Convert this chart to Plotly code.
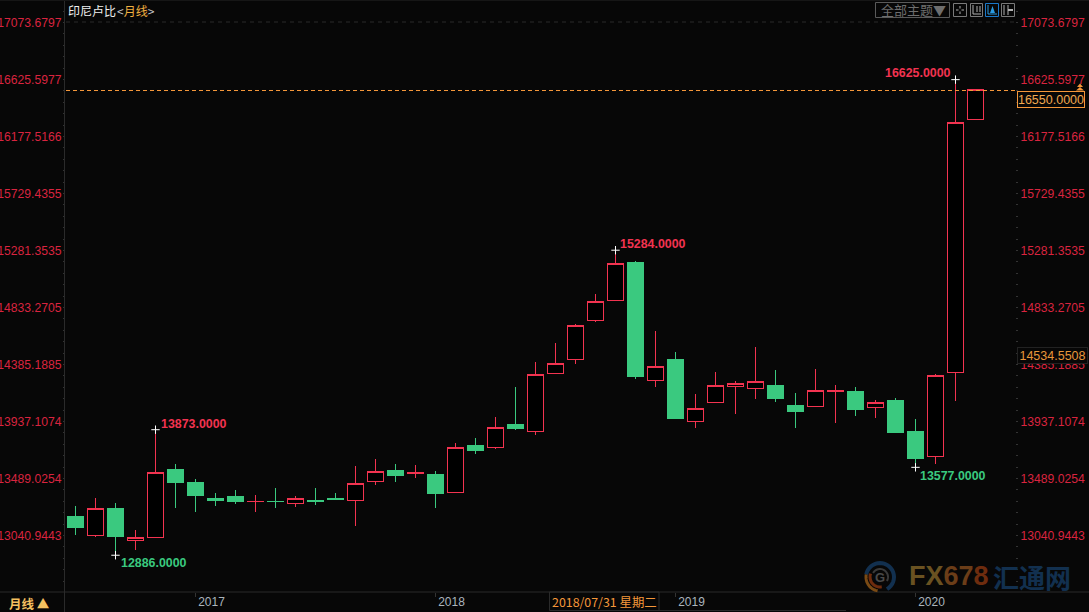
import numpy as np
import plotly.graph_objects as go

# ---- data ----
months = [f"{y}-{m:02d}" for y, m in
          [(2016, m) for m in range(7, 13)] + [(2017, m) for m in range(1, 13)] +
          [(2018, m) for m in range(1, 13)] + [(2019, m) for m in range(1, 13)] +
          [(2020, m) for m in range(1, 5)]]
opens = [13194, 13039, 13257, 13003, 13027, 13564, 13454, 13336, 13344, 13307, 13312, 13294,
         13320, 13336, 13318, 13464, 13556, 13527, 13522, 13381, 13745, 13731, 13910, 13860,
         14313, 14423, 14730, 14887, 15191, 14258, 14428, 13936, 14087, 14211, 14195, 14224,
         14067, 14053, 14171, 14177, 14049, 14106, 13862, 13664, 14324, 16313]
highs = [13273, 13336, 13294, 13084, 13873, 13603, 13483, 13375, 13399, 13359, 13414, 13352,
         13414, 13375, 13587, 13642, 13603, 13595, 13546, 13766, 13807, 13973, 14208, 14405,
         14554, 14704, 14939, 15284, 15199, 14649, 14484, 14153, 14326, 14256, 14520, 14342,
         14161, 14350, 14224, 14208, 14106, 14120, 13957, 14308, 16625, 16550]
lows = [13047, 13032, 12886, 12929, 13020, 13260, 13228, 13275, 13291, 13228, 13260, 13267,
        13283, 13320, 13118, 13440, 13464, 13495, 13260, 13381, 13684, 13723, 13873, 13833,
        14313, 14392, 14722, 14887, 14274, 14211, 13959, 13888, 14087, 13998, 14116, 14093,
        13888, 14053, 13928, 13983, 13967, 13849, 13577, 13605, 14101, 16313]
closes = [13102, 13255, 13032, 13027, 13538, 13456, 13354, 13320, 13307, 13312, 13307, 13333,
          13307, 13322, 13451, 13546, 13511, 13538, 13370, 13734, 13713, 13892, 13881, 14308,
          14395, 14693, 14882, 15181, 14289, 14371, 13959, 14041, 14222, 14237, 14253, 14116,
          14014, 14182, 14182, 14030, 14088, 13849, 13645, 14300, 16289, 16550]

y_ticks = [17073.6797, 16625.5977, 16177.5166, 15729.4355, 15281.3535,
           14833.2705, 14385.1885, 13937.1074, 13489.0254, 13040.9443]
y_labels = ["%.4f" % v for v in y_ticks]
year_months = ["2017-01", "2018-01", "2019-01", "2020-01"]
year_labels = ["2017", "2018", "2019", "2020"]

extreme_months = ["2016-09", "2016-11", "2018-10", "2020-01", "2020-03"]
extreme_values = [12886, 13873, 15284, 13577, 16625]
last_price = 16550
cursor_price = "14534.5508"
title_name = "印尼卢比"
period = "月线"
cursor_date = "2018/07/31 星期二"

# ---- style ----
BG = "#070707"
RED = "#f23350"
GREEN = "#3ac97f"
AXIS_RED = "#d9243f"
ORANGE = "#f5973a"
DIM = "#2a2a2a"
FONT = "Liberation Sans"
CJK = "Noto Sans CJK SC"

L, R, T, B = 66, 1015, 0, 592
W, H = 1089, 612
def px(x): return (x - L) / (R - L)
def py(y): return 1 - (y - T) / (B - T)
cat_lo, cat_hi = -0.475, 46.975
y_lo, y_hi = 12597, 17251

fig = go.Figure()
fig.add_trace(go.Candlestick(
    x=months, open=opens, high=highs, low=lows, close=closes,
    whiskerwidth=0, hoverinfo="skip", showlegend=False,
    increasing=dict(line=dict(color=RED, width=1), fillcolor="#000000"),
    decreasing=dict(line=dict(color=GREEN, width=1), fillcolor=GREEN),
))
fig.add_trace(go.Scatter(
    x=extreme_months, y=extreme_values, mode="markers", hoverinfo="skip", showlegend=False,
    marker=dict(symbol="cross-thin", size=6, line=dict(color="#ffffff", width=1), color="#ffffff"),
))
# invisible companion so the left price scale is drawn
fig.add_trace(go.Scatter(x=months[:1], y=[y_ticks[0]], yaxis="y2", mode="markers",
                         marker=dict(opacity=0), hoverinfo="skip", showlegend=False))

annotations = []
def text(x, y, s, color, size, anchor="left", font=FONT, bold=False, **kw):
    annotations.append(dict(
        xref="paper", yref="paper", x=px(x), y=py(y), text=f"<b>{s}</b>" if bold else s,
        showarrow=False, xanchor=anchor, yanchor=kw.pop("yanchor", "middle"),
        font=dict(color=color, size=size, family=font), borderpad=0, **kw))

# extreme value labels
for m, v, col, dx, dy in zip(extreme_months, extreme_values,
                             [GREEN, RED, RED, GREEN, RED],
                             [3, 3, 2, 2, -73], [8, -6, -6, 9, -7]):
    annotations.append(dict(xref="x", yref="y", x=m, y=v, text=f"<b>{v}.0000</b>", showarrow=False,
                            xanchor="left", yanchor="middle", xshift=dx, yshift=-dy,
                            font=dict(color=col, size=12.4, family=FONT)))

# headers and footer
text(67, 11, title_name, "#f0f0f0", 12, font=CJK)
text(116, 11, '<span style="color:#c8c8c8">&lt;</span>' + period +
     '<span style="color:#c8c8c8">&gt;</span>', "#f0b040", 12, font=CJK)
text(8, 603, f"<b>{period}</b> ▲", "#f5c060", 12.5, font=CJK)
text(604, 602, cursor_date, ORANGE, 12.4, anchor="center", font=CJK)
text(913, 10, "全部主题▼", "#6e6e6e", 13, anchor="center", font=CJK)

# value boxes
annotations.append(dict(xref="paper", yref="paper", x=px(1017), y=py(91), xanchor="left", yanchor="top",
                        text="%d.0000" % last_price, showarrow=False, width=66, height=15,
                        bgcolor=BG, bordercolor=ORANGE, borderwidth=1, borderpad=0, align="center",
                        font=dict(color="#f0a850", size=12.5, family=FONT)))
annotations.append(dict(xref="paper", yref="paper", x=px(1017), y=py(347), xanchor="left", yanchor="top",
                        text=cursor_price, showarrow=False, width=69, height=15,
                        bgcolor=BG, bordercolor="#222222", borderwidth=1, borderpad=0, align="center",
                        font=dict(color="#e8963a", size=12.5, family=FONT)))

# watermark
text(908, 576, '<b><span style="color:#6a5221">FX</span><span style="color:#6b3d18">67</span>'
     '<span style="color:#6e2c0e">8</span></b>', "#6a5221", 27, font=FONT)
text(992, 576, "<b>汇通网</b>", "#12304f", 26, font=CJK)
text(880, 577, "G", "#4a4a4a", 13, anchor="center", bold=True)

shapes = []
def rect(x0, y0, x1, y1, color, width=1, fill=None, layer="above"):
    shapes.append(dict(type="rect", xref="paper", yref="paper", x0=px(x0), x1=px(x1), y0=py(y0), y1=py(y1),
                       line=dict(color=color, width=width), fillcolor=fill or "rgba(0,0,0,0)", layer=layer))
def line(x0, y0, x1, y1, color, width=1, dash="solid"):
    shapes.append(dict(type="line", xref="paper", yref="paper", x0=px(x0), x1=px(x1), y0=py(y0), y1=py(y1),
                       line=dict(color=color, width=width, dash=dash)))
def tri(x0, x1, ytop, ybot, color):
    shapes.append(dict(type="path", xref="paper", yref="paper",
                       path=f"M {px(x0)},{py(ybot)} L {px((x0 + x1) / 2)},{py(ytop)} L {px(x1)},{py(ybot)} Z",
                       fillcolor=color, line=dict(width=0)))
def arc(cx, cy, r, a0, a1, color, width):
    t = np.radians(np.linspace(a0, a1, 24))
    pts = [(px(cx + r * np.cos(a)), py(cy - r * np.sin(a))) for a in t]
    d = "M " + " L ".join(f"{a:.5f},{b:.5f}" for a, b in pts)
    shapes.append(dict(type="path", xref="paper", yref="paper", path=d, line=dict(color=color, width=width)))

# last price and top grid lines
line(L, 90.5, 1017, 90.5, ORANGE, 1, "4px,3px")
line(L, 22, R, 22, "#2a2a2a", 1, "4px,4px")
tri(1076, 1084, 87, 90.5, ORANGE)
tri(1077, 1083, 83.5, 87, ORANGE)

# frame
line(64.5, 0, 64.5, 612, DIM)
line(0, 592, 1089, 592, DIM)
line(0, 0.5, 1089, 0.5, "#161616")
rect(549.5, 592, 659, 610.5, DIM)
line(659, 610.5, 846, 610.5, DIM)

# toolbar
rect(875.5, 2.5, 949.5, 17.5, "#5a5a5a")
rect(953.5, 3.5, 966.5, 16.5, "#7a7a7a")
line(956, 10, 958.5, 10, "#b0b0b0"); line(961.5, 10, 964, 10, "#b0b0b0")
line(960, 6, 960, 8.5, "#b0b0b0"); line(960, 11.5, 960, 14, "#b0b0b0")
rect(970.5, 3.5, 982.5, 16.5, "#7a7a7a")
line(973, 5, 973, 14, "#b0b0b0"); line(973, 14, 981, 14, "#b0b0b0")
line(977, 6, 977, 12, "#b0b0b0"); line(980, 6, 980, 12, "#b0b0b0")
rect(985.5, 3.5, 998.5, 16.5, "#1a78c8")
line(988, 5, 988, 14, "#2a9ae0"); line(988, 14, 997, 14, "#2a9ae0")
tri(990, 995, 6, 13, "#2a9ae0")
rect(1001.5, 3.5, 1014.5, 16.5, "#7a7a7a")
line(1004, 5, 1004, 15, "#b0b0b0"); line(1008, 5, 1008, 15, "#b0b0b0")
line(1008, 10, 1013, 10, "#b0b0b0", 2)

# logo
arc(880, 577, 14, -60, 170, "#12304f", 4)
arc(880, 577, 14, 170, 260, "#7a4a14", 3)
arc(880, 577, 10, 160, 280, "#6e2c0e", 3)
arc(880, 577, 8, -30, 150, "#3a3a3a", 2)

tick_font = dict(color=AXIS_RED, size=12.2, family=FONT)
minor_axis = dict(ticks="outside", ticklen=2, tickcolor="#333333", tickmode="linear",
                  tick0=y_ticks[-1], dtick=(y_ticks[0] - y_ticks[-1]) / 45)

fig.update_layout(
    width=W, height=H, autosize=False, boxgap=0.18, boxgroupgap=0,
    margin=dict(l=L, r=W - R, t=T, b=H - B, pad=0, autoexpand=False),
    paper_bgcolor=BG, plot_bgcolor=BG, showlegend=False,
    xaxis=dict(type="category", categoryorder="array", categoryarray=months, automargin=False,
               range=[cat_lo, cat_hi], rangeslider=dict(visible=False),
               tickmode="array", tickvals=year_months, ticktext=year_labels,
               ticks="outside", ticklen=4, tickcolor="#333333", ticklabelshift=16, ticklabelstandoff=-5,
               tickfont=dict(color="#aab4bc", size=12, family=FONT),
               showgrid=False, zeroline=False, showline=False),
    yaxis=dict(range=[y_lo, y_hi], side="right", tickmode="array", tickvals=y_ticks, ticktext=y_labels,
               automargin=False, ticks="outside", ticklen=2, tickcolor="#333333", tickfont=tick_font,
               showgrid=False, zeroline=False, showline=False, minor=minor_axis),
    yaxis2=dict(range=[y_lo, y_hi], side="left", overlaying="y", tickmode="array", tickvals=y_ticks,
                automargin=False, ticktext=y_labels, ticks="outside", ticklen=1, tickcolor="#333333",
                tickfont=tick_font, showgrid=False, zeroline=False, showline=False, minor=minor_axis),
    annotations=annotations, shapes=shapes,
)
post = ("document.documentElement.style.background='#070707';document.body.style.margin='0';"
        "var s=document.createElement('style');"
        "s.textContent='.boxlayer path{shape-rendering:crispEdges}';document.head.appendChild(s);")
fig.write_html("out.html", config=dict(displayModeBar=False), post_script=post)
